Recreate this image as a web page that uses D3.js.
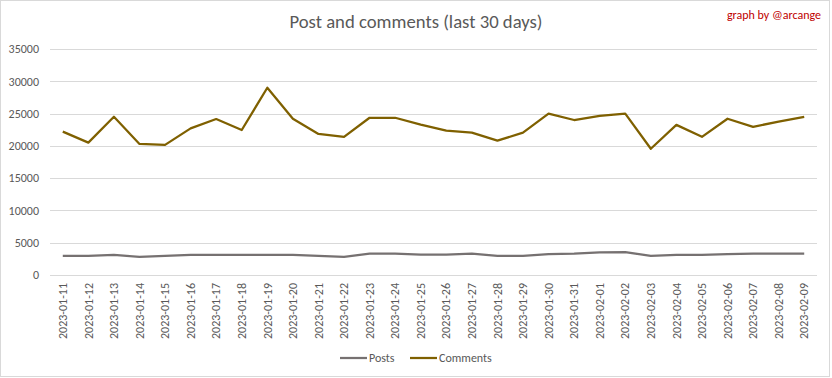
<!DOCTYPE html>
<html>
<head>
<meta charset="utf-8">
<script src="https://cdn.jsdelivr.net/npm/d3@7"></script>
<style>
  body { margin: 0; background: #fff; }
  text { font-family: Carlito, "Liberation Sans Narrow", "Open Sans", sans-serif; }
</style>
</head>
<body>
<div id="chart"></div>
<script>
// data
const dates = [
  "2023-01-11", "2023-01-12", "2023-01-13", "2023-01-14", "2023-01-15",
  "2023-01-16", "2023-01-17", "2023-01-18", "2023-01-19", "2023-01-20",
  "2023-01-21", "2023-01-22", "2023-01-23", "2023-01-24", "2023-01-25",
  "2023-01-26", "2023-01-27", "2023-01-28", "2023-01-29", "2023-01-30",
  "2023-01-31", "2023-02-01", "2023-02-02", "2023-02-03", "2023-02-04",
  "2023-02-05", "2023-02-06", "2023-02-07", "2023-02-08", "2023-02-09",
];
const posts = [
  2950, 2950, 3100, 2800, 2950, 3100, 3100, 3100, 3100, 3100,
  2950, 2800, 3300, 3300, 3150, 3150, 3300, 2980, 2980, 3250,
  3300, 3500, 3550, 2950, 3100, 3100, 3250, 3300, 3300, 3300,
];
const comments = [
  22200, 20500, 24500, 20300, 20150, 22700, 24150, 22450, 29000, 24200,
  21850, 21400, 24350, 24350, 23300, 22350, 22050, 20800, 22050, 25000,
  24000, 24650, 25000, 19550, 23250, 21400, 24200, 22950, 23750, 24500,
];
const yTicks = [0, 5000, 10000, 15000, 20000, 25000, 30000, 35000];

const width = 832;
const height = 378;
const margin = { top: 49, right: 15, bottom: 103, left: 50 };

const svg = d3
  .select("#chart")
  .append("svg")
  .attr("width", width)
  .attr("height", height);

// 外框
svg
  .append("rect")
  .attr("x", 0.5)
  .attr("y", 0.5)
  .attr("width", 829)
  .attr("height", 376)
  .attr("fill", "#fff")
  .attr("stroke", "#d9d9d9");

const x = d3
  .scaleBand()
  .domain(dates)
  .range([margin.left, width - margin.right]);

const y = d3
  .scaleLinear()
  .domain([0, 35000])
  .range([height - margin.bottom, margin.top]);

// gridlines
svg
  .append("g")
  .selectAll("line")
  .data(yTicks)
  .enter()
  .append("line")
  .attr("x1", margin.left)
  .attr("x2", width - margin.right)
  .attr("y1", (d) => Math.round(y(d)) + 0.5)
  .attr("y2", (d) => Math.round(y(d)) + 0.5)
  .attr("stroke", "#d9d9d9")
  .attr("stroke-width", 1);

// y axis labels
const yAxis = svg
  .append("g")
  .attr("transform", `translate(${margin.left}, 0)`)
  .call(d3.axisLeft(y).tickValues(yTicks).tickSize(0).tickPadding(11).tickFormat(d3.format("d")));
yAxis.select(".domain").remove();
yAxis
  .selectAll("text")
  .attr("fill", "#595959")
  .style("font-size", "12px");

// x axis labels
const xAxis = svg
  .append("g")
  .attr("transform", `translate(0, ${height - margin.bottom})`)
  .call(d3.axisBottom(x).tickSize(0));
xAxis.select(".domain").remove();
xAxis
  .selectAll("text")
  .attr("transform", "rotate(-90)")
  .attr("x", -8)
  .attr("y", 0)
  .attr("dy", "0.35em")
  .attr("fill", "#595959")
  .style("font-size", "12px")
  .style("text-anchor", "end");

const line = d3
  .line()
  .x((d, i) => x(dates[i]) + x.bandwidth() / 2)
  .y((d) => y(d));

const series = [
  { name: "Posts", values: posts, color: "#767171" },
  { name: "Comments", values: comments, color: "#7f6000" },
];

series.forEach((s) => {
  svg
    .append("path")
    .datum(s.values)
    .attr("fill", "none")
    .attr("stroke", s.color)
    .attr("stroke-width", 2.25)
    .attr("stroke-linejoin", "round")
    .attr("d", line);
});

// legend
const legendX = [340, 410];
series.forEach((s, i) => {
  const g = svg.append("g").attr("transform", `translate(${legendX[i]}, 358)`);
  g.append("line")
    .attr("x1", 0)
    .attr("x2", 27)
    .attr("stroke", s.color)
    .attr("stroke-width", 2.25);
  g.append("text")
    .attr("x", 29)
    .attr("dy", "0.35em")
    .attr("fill", "#595959")
    .style("font-size", "12px")
    .text(s.name);
});

// title
svg
  .append("text")
  .attr("x", 416)
  .attr("y", 28)
  .attr("text-anchor", "middle")
  .attr("fill", "#595959")
  .style("font-size", "18.7px")
  .text("Post and comments (last 30 days)");

svg
  .append("text")
  .attr("x", 821)
  .attr("y", 19)
  .attr("text-anchor", "end")
  .attr("fill", "#c00000")
  .style("font-size", "12px")
  .text("graph by @arcange");
</script>
</body>
</html>
